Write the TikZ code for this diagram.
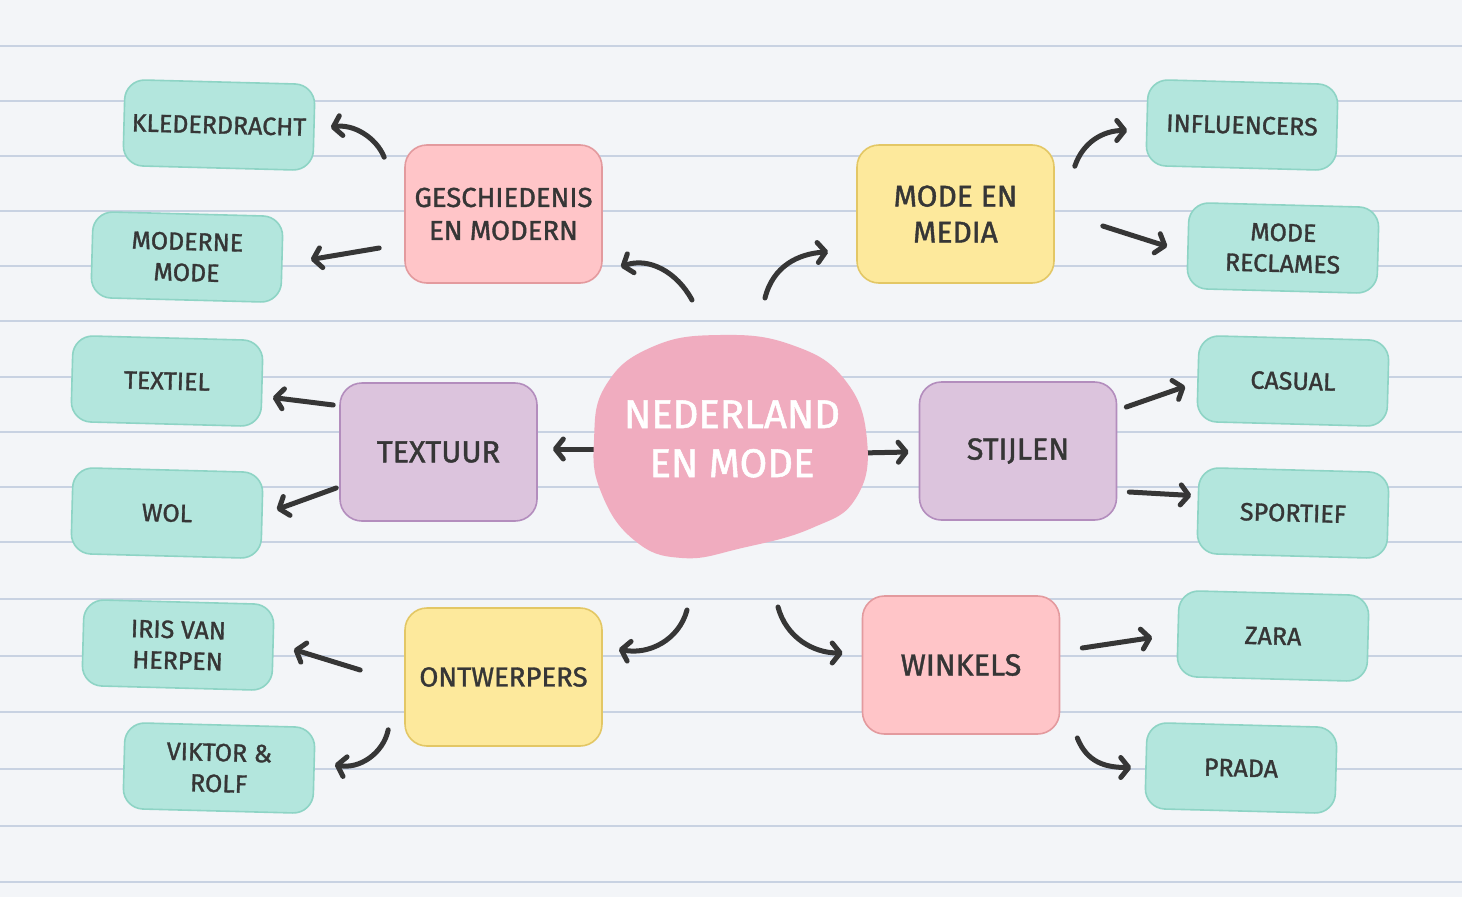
\documentclass[tikz,border=0pt]{standalone}
\usepackage{fontspec}
\setmainfont{Fira Sans}
\newfontfamily\hand{Fira Sans}[FakeBold=1.3]
\usetikzlibrary{arrows.meta}
\definecolor{paper}{HTML}{F3F5F8}
\definecolor{rulec}{HTML}{C8D2E2}
\definecolor{ink}{HTML}{363636}
\definecolor{tealf}{HTML}{B3E6DD}
\definecolor{tealb}{HTML}{8ED4C5}
\definecolor{pinkf}{HTML}{FFC5C8}
\definecolor{pinkb}{HTML}{E39A9E}
\definecolor{yelf}{HTML}{FDE99C}
\definecolor{yelb}{HTML}{E3C765}
\definecolor{purf}{HTML}{DCC4DD}
\definecolor{purb}{HTML}{B38DBD}
\definecolor{blobf}{HTML}{F0ACBF}
\tikzset{
  leaf/.style={draw=tealb, fill=tealf, rounded corners=20pt, minimum width=190pt,
    minimum height=86pt, line width=1.6pt, text=ink, align=center, inner sep=0pt,
    font=\hand\fontsize{25}{31}\selectfont},
  hub/.style={rounded corners=22pt, minimum width=197pt, minimum height=138pt,
    line width=1.6pt, text=ink, align=center, inner sep=0pt,
    font=\hand\fontsize{27.5}{33}\selectfont},
  pinkhub/.style={hub, draw=pinkb, fill=pinkf},
  yelhub/.style={hub, draw=yelb, fill=yelf},
  purhub/.style={hub, draw=purb, fill=purf},
  big/.style={font=\hand\fontsize{30.5}{36}\selectfont},
  arr/.style={draw=ink, line width=5pt, line cap=round,
    -{Straight Barb[length=8pt,width=20pt,round]}},
  rulel/.style={draw=rulec, line width=1.6pt}
}
\begin{document}
\begin{tikzpicture}[x=1pt,y=-1pt]
\fill[paper] (0,0) rectangle (1462,897);
\useasboundingbox (0,0) rectangle (1462,897);
\foreach \yy in {46,101,156,211,266,321,377,432,487,542,599,656,712,769,826,882}
  \draw[rulel] (0,\yy) -- (1462,\yy);

% nodes
\coordinate (blob) at (730,447);
\node[leaf, rotate=-1.5] (kled) at (219,125) {KLEDERDRACHT};
\node[leaf, rotate=-1.5] (modm) at (187,257) {MODERNE\\MODE};
\node[pinkhub] (geo) at (503.5,214) {GESCHIEDENIS\\EN MODERN};
\node[yelhub, font=\hand\fontsize{30}{36}\selectfont] (med) at (955.5,214) {MODE EN\\MEDIA};
\node[leaf, rotate=-1.5] (infl) at (1242,125) {INFLUENCERS};
\node[leaf, rotate=-1.5] (recl) at (1283,248) {MODE\\RECLAMES};
\node[leaf, rotate=-1.5] (textiel) at (167,381) {TEXTIEL};
\node[leaf, rotate=-1.5] (wol) at (167,513) {WOL};
\node[purhub, big] (textuur) at (438.5,452) {TEXTUUR};
\node[purhub, big] (stijl) at (1018,451) {STIJLEN};
\node[leaf, rotate=-1.5] (casual) at (1293,381) {CASUAL};
\node[leaf, rotate=-1.5] (sport) at (1293,513) {SPORTIEF};
\node[leaf, rotate=-1.5] (iris) at (178,645) {IRIS VAN\\HERPEN};
\node[leaf, rotate=-1.5] (viktor) at (219,768) {VIKTOR \&\\ROLF};
\node[yelhub] (ontw) at (503.5,677) {ONTWERPERS};
\node[pinkhub, big] (wink) at (961,665) {WINKELS};
\node[leaf, rotate=-1.5] (zara) at (1273,636) {ZARA};
\node[leaf, rotate=-1.5] (prada) at (1241,768) {PRADA};

% arrows hidden under the blob
\draw[arr] ([shift={(-126,2)}]blob) -- ([shift={(15,-3)}]textuur.east);
\draw[arr] ([shift={(130,6)}]blob) -- ([shift={(-10,1)}]stijl.west);

% central blob
\fill[blobf] plot[smooth cycle, tension=0.75] coordinates
  {(720,335) (792,345) (845,380) (867,440) (856,498) (812,528) (742,548) (682,558) (634,540) (601,492) (594,440) (606,385) (652,347)};
\node[text=white, align=center, font=\hand\fontsize{40}{49}\selectfont] (title) at ([shift={(2,-8)}]blob) {NEDERLAND\\EN MODE};

% arrows
\draw[arr] ([shift={(-20,13)}]geo.north west) .. controls +(-8,-20) and +(22,-4) .. ([shift={(16,0)}]kled.east);
\draw[arr] ([shift={(-25,34)}]geo.west) -- ([shift={(28,0)}]modm.east);
\draw[arr] ([shift={(-38,-147)}]blob) .. controls +(-15,-28) and +(28,-10) .. ([shift={(18,-17)}]geo.south east);
\draw[arr] ([shift={(35,-149)}]blob) .. controls +(8,-32) and +(-30,2) .. ([shift={(-28,-32)}]med.south west);
\draw[arr] ([shift={(20,22)}]med.north east) .. controls +(8,-24) and +(-24,0) .. ([shift={(-19,8)}]infl.west);
\draw[arr] ([shift={(48,12)}]med.east) -- ([shift={(-20,1)}]recl.west);
\draw[arr] ([shift={(-6,-47)}]textuur.west) -- ([shift={(10,14)}]textiel.east);
\draw[arr] ([shift={(-3,36)}]textuur.west) -- ([shift={(14,-6)}]wol.east);
\draw[arr] ([shift={(9,-44)}]stijl.east) -- ([shift={(-12,8)}]casual.west);
\draw[arr] ([shift={(12,41)}]stijl.east) -- ([shift={(-6,-15)}]sport.west);
\draw[arr] ([shift={(-43,163)}]blob) .. controls +(-8,30) and +(30,6) .. ([shift={(16,42)}]ontw.north east);
\draw[arr] ([shift={(48,160)}]blob) .. controls +(8,30) and +(-30,0) .. ([shift={(-19,-12)}]wink.west);
\draw[arr] ([shift={(-44,-7)}]ontw.west) -- ([shift={(20,2)}]iris.east);
\draw[arr] ([shift={(-16,-17)}]ontw.south west) .. controls +(-5,24) and +(24,5) .. ([shift={(20,-6)}]viktor.east);
\draw[arr] ([shift={(22,-17)}]wink.east) -- ([shift={(-25,4)}]zara.west);
\draw[arr] ([shift={(17,73)}]wink.east) .. controls +(10,25) and +(-25,0) .. ([shift={(-14,2)}]prada.west);
\end{tikzpicture}
\end{document}
